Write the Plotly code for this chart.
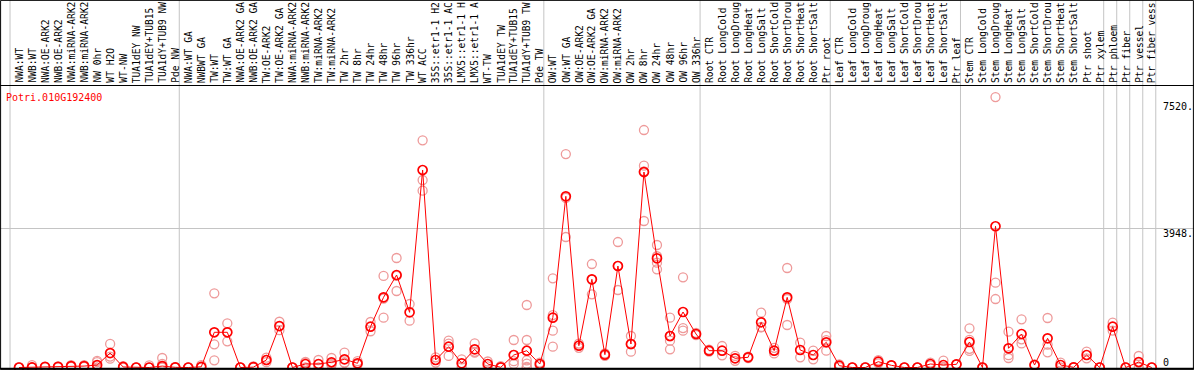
import plotly.graph_objects as go

title_text = "Potri.010G192400"

labels = [
    "NWA:WT", "NWB:WT", "NWA:OE-ARK2", "NWB:OE-ARK2", "NWA:miRNA-ARK2", "NWB:miRNA-ARK2",
    "NW 0hr", "WT H2O", "WT-NW", "TUA1dEY NW", "TUA1dEY+TUB15 NW", "TUA1dY+TUB9 NW", "Pde NW",
    "NWA:WT GA", "NWBWT GA", "TW:WT", "TW:WT GA", "NWA:OE-ARK2 GA", "NWB:OE-ARK2 GA",
    "TW:OE-ARK2", "TW:OE-ARK2 GA", "NWA:miRNA-ARK2", "NWB:miRNA-ARK2", "TW:miRNA-ARK2",
    "TW:miRNA-ARK2", "TW 2hr", "TW 8hr", "TW 24hr", "TW 48hr", "TW 96hr", "TW 336hr",
    "WT ACC", "35S::etr1-1 H2O", "35S::etr1-1 ACC", "LMX5::etr1-1 H2O", "LMX5::etr1-1 ACC",
    "WT-TW", "TUA1dEY TW", "TUA1dEY+TUB15 TW", "TUA1dY+TUB9 TW", "Pde TW",
    "OW:WT", "OW:WT GA", "OW:OE-ARK2", "OW:OE-ARK2 GA", "OW:miRNA-ARK2", "OW:miRNA-ARK2",
    "OW 2hr", "OW 8hr", "OW 24hr", "OW 48hr", "OW 96hr", "OW 336hr",
    "Root CTR", "Root LongCold", "Root LongDrought", "Root LongHeat", "Root LongSalt",
    "Root ShortCold", "Root ShortDrought", "Root ShortHeat", "Root ShortSalt", "Ptr root",
    "Leaf CTR", "Leaf LongCold", "Leaf LongDrought", "Leaf LongHeat", "Leaf LongSalt",
    "Leaf ShortCold", "Leaf ShortDrought", "Leaf ShortHeat", "Leaf ShortSalt", "Ptr leaf",
    "Stem CTR", "Stem LongCold", "Stem LongDrought", "Stem LongHeat", "Stem LongSalt",
    "Stem ShortCold", "Stem ShortDrought", "Stem ShortHeat", "Stem ShortSalt", "Ptr shoot",
    "Ptr xylem", "Ptr phloem", "Ptr fiber", "Ptr vessel", "Ptr fiber vessel",
]

means = [
    0, 5, 20, 20, 40, 40, 70, 410, 15, 0, 0, 40, 5,
    0, 20, 1000, 1000, 0, 10, 213, 1178, 0, 100, 100, 148, 232, 119, 1160, 1994, 2627,
    1567, 5609, 213, 591, 119, 517, 99, 5, 355, 477, 99,
    1415, 4862, 620, 2505, 364, 2883, 667, 5552, 3101, 895, 1576, 951,
    478, 478, 261, 289, 1283, 478, 1993, 497, 355, 716,
    51, 0, 0, 165, 62, 0, 0, 99, 71, 90,
    724, 0, 4012, 545, 951, 71, 829, 71, 5, 355, 0,
    1160, 0, 156, 0,
]

replicates = [
    [0, 10], [70, 0], [20, 10], [30, 10], [70, 20], [70, 20], [190, 150, 0],
    [670, 250, 310], [40, 0], [0, 0], [60, 0], [270, 100, 0], [0, 10],
    [0, 0], [70, 0], [2107, 659, 204], [1255, 744], [0, 0], [30, 0], [280, 150, 213],
    [1300, 1060], [0, 0], [140, 160, 0], [213, 0, 90], [270, 100, 70], [420, 140, 130],
    [180, 90, 90], [1292, 1030], [2600, 1415, 1960], [3110, 2173, 2600], [1803, 1329],
    [6452, 5325, 5021], [290, 140], [762, 680, 330], [230, 20], [687, 420, 445],
    [170, 30], [40, 0], [781, 360, 180, 100], [1775, 781, 204, 108, 14, 0], [140, 60],
    [2533, 1046, 591, 1490], [6063, 3706, 4817], [560, 680], [2939, 2079, 2497],
    [330, 398], [3564, 2201, 2884], [895, 449, 657], [6745, 5731, 4161, 5571],
    [3479, 2976, 2789, 3160], [1414, 761, 517, 888], [2561, 1046, 1120], [980, 920],
    [450, 506], [610, 346], [330, 190], [310, 270], [1557, 1150, 1142], [560, 400],
    [2826, 1207, 1946], [704, 290], [477, 233], [895, 478, 775],
    [90, 12], [0, 0], [0, 10], [210, 120], [62, 62], [0, 0], [0, 0], [140, 60],
    [193, 0, 20], [90, 90],
    [1113, 530, 470, 783], [0, 0], [7682, 2409, 1945], [1017, 350, 270],
    [1369, 800, 684], [90, 52], [1406, 650, 431], [140, 0], [0, 10], [450, 260], [0, 0],
    [1272, 1050], [0, 0], [327, 0, 140], [0, 0],
]

group_starts = [0, 13, 41, 53, 63, 73, 84, 85, 86, 87, 88]
ytick_vals = [0, 3948, 7520]
ytick_text = ["0", "3948.", "7520."]
label_chars = 14  # the header only has room for this many characters

W, H = 1194, 370
px_per_cat = 13.02
first_px = 19.0
x0 = -first_px / px_per_cat
x1 = x0 + W / px_per_cat
zero_px = 367.5
units_per_px = 3948 / (zero_px - 228.5)
y_top = zero_px * units_per_px
y_bot = -(H - zero_px) * units_per_px

xs = list(range(len(labels)))

rep_x, rep_y = [], []
for i, reps in enumerate(replicates):
    for r in reps:
        rep_x.append(i)
        rep_y.append(r)

fig = go.Figure()
fig.add_trace(go.Scatter(
    x=rep_x, y=rep_y, mode="markers",
    marker=dict(symbol="circle-open", size=9, color="#ee9a9a", line=dict(width=1.3)),
    hoverinfo="skip", showlegend=False,
))
fig.add_trace(go.Scatter(
    x=xs, y=means, mode="lines+markers",
    line=dict(color="#ff0000", width=1),
    marker=dict(symbol="circle-open", size=9, color="#ff0000", line=dict(width=1.7)),
    text=labels, showlegend=False,
))

shapes = []
for k in group_starts:
    shapes.append(dict(type="line", xref="x", yref="paper", x0=k - 0.69, x1=k - 0.69,
                       y0=0, y1=1, line=dict(color="#c4c4c4", width=1), layer="below"))
shapes.append(dict(type="line", xref="paper", yref="paper", x0=0, x1=1,
                   y0=1 - 85.5 / H, y1=1 - 85.5 / H, line=dict(color="black", width=1)))
shapes.append(dict(type="line", xref="paper", yref="paper", x0=0, x1=1,
                   y0=1 - 368.5 / H, y1=1 - 368.5 / H, line=dict(color="black", width=1.5)))
shapes.append(dict(type="rect", xref="paper", yref="paper", x0=0.0005, x1=0.9995,
                   y0=0.001, y1=0.999, line=dict(color="black", width=1)))

mono = "DejaVu Sans Mono"
annotations = []
for i, lab in enumerate(labels):
    annotations.append(dict(
        x=i, y=1 - 84 / H, xref="x", yref="paper", text=lab[:label_chars].rstrip(),
        textangle=-90, showarrow=False, xanchor="center", yanchor="bottom",
        borderpad=0, font=dict(family=mono, size=9.6, color="black"),
    ))
annotations.append(dict(
    x=4 / W, y=1 - 97 / H, xref="paper", yref="paper", text=title_text,
    showarrow=False, xanchor="left", yanchor="middle",
    font=dict(family=mono, size=10, color="#ff0000"),
))
ylab_px = {0: 362, 3948: 233, 7520: 107}
for v, t in zip(ytick_vals, ytick_text):
    annotations.append(dict(
        x=1161 / W, y=1 - ylab_px[v] / H, xref="paper", yref="paper", text=t,
        showarrow=False, xanchor="left", yanchor="middle",
        font=dict(family=mono, size=10, color="black"),
    ))

fig.update_layout(
    width=W, height=H, margin=dict(l=0, r=0, t=0, b=0),
    paper_bgcolor="white", plot_bgcolor="white",
    xaxis=dict(range=[x0, x1], showgrid=False, zeroline=False, showticklabels=False,
               ticks="", fixedrange=True),
    yaxis=dict(range=[y_bot, y_top], tickvals=[3948], showgrid=True, gridcolor="#c4c4c4",
               gridwidth=1, zeroline=False, showticklabels=False, ticks="", fixedrange=True),
    shapes=shapes, annotations=annotations, showlegend=False,
)

fig.write_html("out.html", config={"displayModeBar": False},
               post_script="document.body.style.margin='0';document.body.style.overflow='hidden';")
